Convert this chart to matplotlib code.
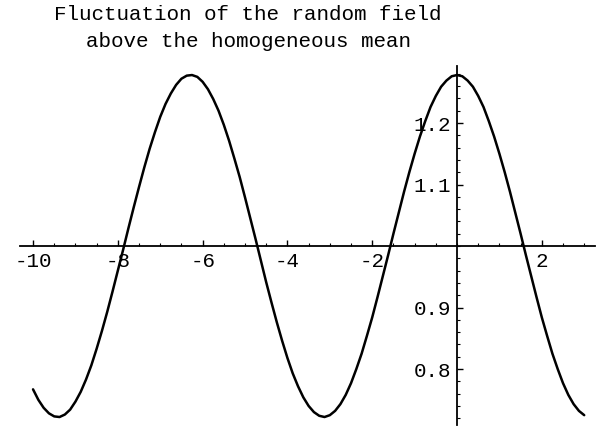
import numpy as np
import matplotlib
matplotlib.use("Agg")
import matplotlib.pyplot as plt
from matplotlib.ticker import FixedLocator, FixedFormatter

# Field value sampled every 0.125 along x, from -10 to 3
x_vals = np.arange(-10.0, 3.0625, 0.125)
field_vals = [
    0.767, 0.750, 0.737, 0.728, 0.723, 0.722, 0.726, 0.734,   # -10 .. -9.125
    0.747, 0.763, 0.783, 0.806, 0.833, 0.862, 0.893, 0.926,   # -9 .. -8.125
    0.960, 0.994, 1.029, 1.063, 1.096, 1.128, 1.158, 1.185,   # -8 .. -7.125
    1.210, 1.231, 1.248, 1.262, 1.272, 1.277, 1.278, 1.275,   # -7 .. -6.125
    1.267, 1.255, 1.239, 1.220, 1.197, 1.171, 1.142, 1.112,   # -6 .. -5.125
    1.079, 1.045, 1.011, 0.976, 0.941, 0.908, 0.876, 0.846,   # -5 .. -4.125
    0.818, 0.793, 0.772, 0.754, 0.740, 0.730, 0.724, 0.722,   # -4 .. -3.125
    0.725, 0.732, 0.743, 0.758, 0.777, 0.800, 0.825, 0.854,   # -3 .. -2.125
    0.884, 0.917, 0.951, 0.985, 1.020, 1.054, 1.088, 1.120,   # -2 .. -1.125
    1.150, 1.178, 1.203, 1.226, 1.244, 1.259, 1.269, 1.276,   # -1 .. -0.125
    1.278, 1.276, 1.269, 1.259, 1.244, 1.226, 1.203, 1.178,   # 0 .. 0.875
    1.150, 1.120, 1.088, 1.054, 1.020, 0.985, 0.951, 0.917,   # 1 .. 1.875
    0.884, 0.854, 0.825, 0.800, 0.777, 0.758, 0.743, 0.732,   # 2 .. 2.875
    0.725,                                                    # 3
]

x_ticks = [-10, -8, -6, -4, -2, 2]
x_tick_labels = ["-10", "-8", "-6", "-4", "-2", "2"]
y_ticks = [0.8, 0.9, 1.1, 1.2]
y_tick_labels = ["0.8", "0.9", "1.1", "1.2"]

title_text = "Fluctuation of the random field\nabove the homogeneous mean"

mono = "Liberation Mono"

fig = plt.figure(figsize=(6.01, 4.29), dpi=100)
ax = fig.add_axes([0.0338, 0.0093, 0.9559, 0.8373])

ax.plot(x_vals, field_vals, color="black", lw=1.8,
        solid_joinstyle="round", solid_capstyle="round")

ax.set_xlim(-10.3, 3.25)
ax.set_ylim(0.709, 1.293)

# Axes crossing at the origin (x = 0, y = 1)
for side in ("top", "right"):
    ax.spines[side].set_visible(False)
ax.spines["left"].set_position(("data", 0))
ax.spines["bottom"].set_position(("data", 1.0))
for side in ("left", "bottom"):
    ax.spines[side].set_linewidth(1.3)

ax.xaxis.set_major_locator(FixedLocator(x_ticks))
ax.xaxis.set_major_formatter(FixedFormatter(x_tick_labels))
ax.xaxis.set_minor_locator(FixedLocator(np.arange(-10, 3.01, 0.5)))
ax.yaxis.set_major_locator(FixedLocator(y_ticks))
ax.yaxis.set_major_formatter(FixedFormatter(y_tick_labels))
ax.yaxis.set_minor_locator(FixedLocator(np.arange(0.72, 1.281, 0.02)))

ax.tick_params(which="major", direction="in", length=4, width=1.0,
               labelsize=15, pad=4)
ax.tick_params(which="minor", direction="in", length=2.2, width=0.8)
for lab in ax.get_xticklabels() + ax.get_yticklabels():
    lab.set_fontfamily(mono)

fig.text(0.413, 0.988, title_text, ha="center", va="top", fontsize=15,
         family=mono, linespacing=1.5)

fig.savefig("out.png", dpi=100, facecolor="white")
